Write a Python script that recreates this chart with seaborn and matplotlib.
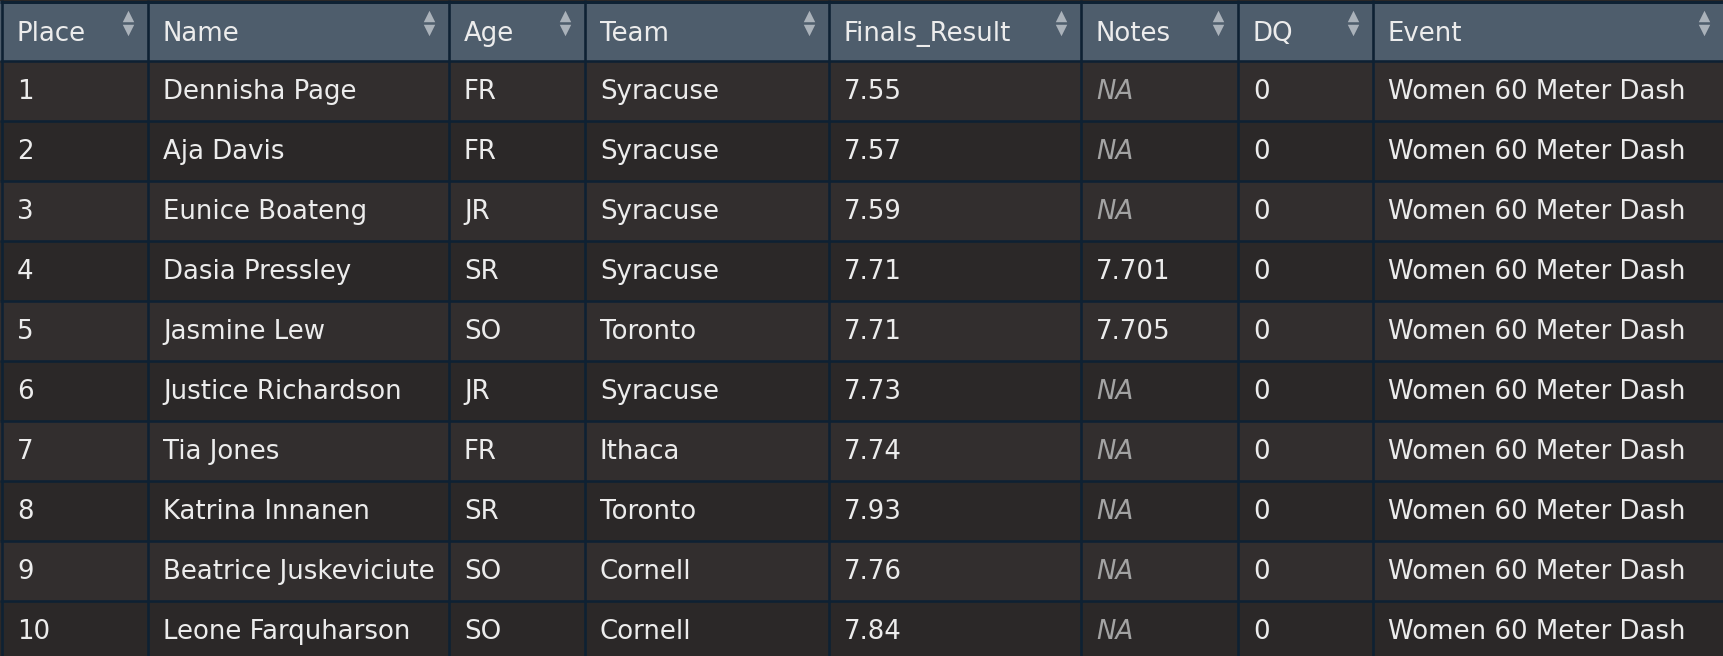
import pandas as pd
import matplotlib
matplotlib.use("Agg")
import matplotlib.pyplot as plt
import seaborn as sns

# table contents
columns = ["Place", "Name", "Age", "Team", "Finals_Result", "Notes", "DQ", "Event"]
places = [1, 2, 3, 4, 5, 6, 7, 8, 9, 10]
names = ["Dennisha Page", "Aja Davis", "Eunice Boateng", "Dasia Pressley", "Jasmine Lew",
         "Justice Richardson", "Tia Jones", "Katrina Innanen", "Beatrice Juskeviciute",
         "Leone Farquharson"]
ages = ["FR", "FR", "JR", "SR", "SO", "JR", "FR", "SR", "SO", "SO"]
teams = ["Syracuse", "Syracuse", "Syracuse", "Syracuse", "Toronto", "Syracuse", "Ithaca",
         "Toronto", "Cornell", "Cornell"]
finals = [7.55, 7.57, 7.59, 7.71, 7.71, 7.73, 7.74, 7.93, 7.76, 7.84]
notes = [None, None, None, 7.701, 7.705, None, None, None, None, None]
dq = [0, 0, 0, 0, 0, 0, 0, 0, 0, 0]
events = ["Women 60 Meter Dash", "Women 60 Meter Dash", "Women 60 Meter Dash",
          "Women 60 Meter Dash", "Women 60 Meter Dash", "Women 60 Meter Dash",
          "Women 60 Meter Dash", "Women 60 Meter Dash", "Women 60 Meter Dash",
          "Women 60 Meter Dash"]

df = pd.DataFrame({"Place": places, "Name": names, "Age": ages, "Team": teams,
                   "Finals_Result": finals, "Notes": notes, "DQ": dq, "Event": events})

# layout (pixels)
W, H = 1724, 656
col_edges = [2, 148, 449, 585, 829, 1081, 1238, 1373, W]
ROW_PX = 60
TOP_PX = 1
PAD = 15

HEADER_BG = "#4e5d6c"
ODD_BG = "#322e2e"
EVEN_BG = "#2b2828"
GRID = "#0e2133"
TEXT = "#ececec"
NA_COL = "#a3a3a3"
ICON = "#aab2ba"

sns.set_theme(style="dark")
plt.rcParams["font.family"] = ["DejaVu Sans"]

fig = plt.figure(figsize=(W / 100, H / 100), dpi=100, facecolor=EVEN_BG)
ax = fig.add_axes([0, 0, 1, 1])

# row backgrounds as full-width horizontal bars
band_rows = ["header"] + [str(p) for p in df["Place"]]
band_kind = ["header"] + ["odd" if i % 2 == 0 else "even" for i in range(len(df))]
bands = pd.DataFrame({"row": band_rows, "kind": band_kind, "width": W})
sns.barplot(data=bands, x="width", y="row", hue="kind", orient="h", dodge=False,
            width=1.0, errorbar=None, legend=False, linewidth=0, saturation=1, ax=ax,
            palette={"header": HEADER_BG, "odd": ODD_BG, "even": EVEN_BG})

y_top = -0.5 - TOP_PX / ROW_PX
ax.set_xlim(0, W)
ax.set_ylim(y_top + H / ROW_PX, y_top)
ax.axis("off")


def yu(px):
    return y_top + px / ROW_PX


# grid lines
lw = 2.6 * 72 / 100
n = len(df)
ax.hlines([i - 0.5 for i in range(1, n + 1)], 0, W, color=GRID, lw=lw, zorder=3)
ax.hlines([yu(1.5)], 0, W, color=GRID, lw=3 * 72 / 100, zorder=3)
ax.vlines(col_edges[:-1], y_top, y_top + H / ROW_PX, color=GRID, lw=lw, zorder=3)

fs = 18.7
head_base = 10 / ROW_PX
body_base = 7.5 / ROW_PX

# header
for j, col in enumerate(columns):
    ax.text(col_edges[j] + PAD, 0 + head_base, col, color=TEXT, fontsize=fs,
            va="baseline", ha="left", zorder=4)

# sort icons
icon_x = [e - 20 for e in col_edges[1:]]
ax.scatter(icon_x, [yu(16)] * len(icon_x), marker="^", s=68, color=ICON, linewidths=0, zorder=4)
ax.scatter(icon_x, [yu(29.5)] * len(icon_x), marker="v", s=68, color=ICON, linewidths=0, zorder=4)

# body cells
for i, rec in enumerate(df.itertuples(index=False)):
    y = i + 1 + body_base
    for j, col in enumerate(columns):
        val = getattr(rec, col)
        if col == "Notes" and pd.isna(val):
            ax.text(col_edges[j] + PAD, y, "NA", color=NA_COL, fontsize=fs,
                    style="italic", va="baseline", ha="left", zorder=4)
            continue
        if col == "Finals_Result":
            s = f"{val:.2f}"
        elif col == "Notes":
            s = f"{val:.3f}"
        else:
            s = str(val)
        ax.text(col_edges[j] + PAD, y, s, color=TEXT, fontsize=fs,
                va="baseline", ha="left", zorder=4)

fig.savefig("out.png", dpi=100, facecolor=fig.get_facecolor())
